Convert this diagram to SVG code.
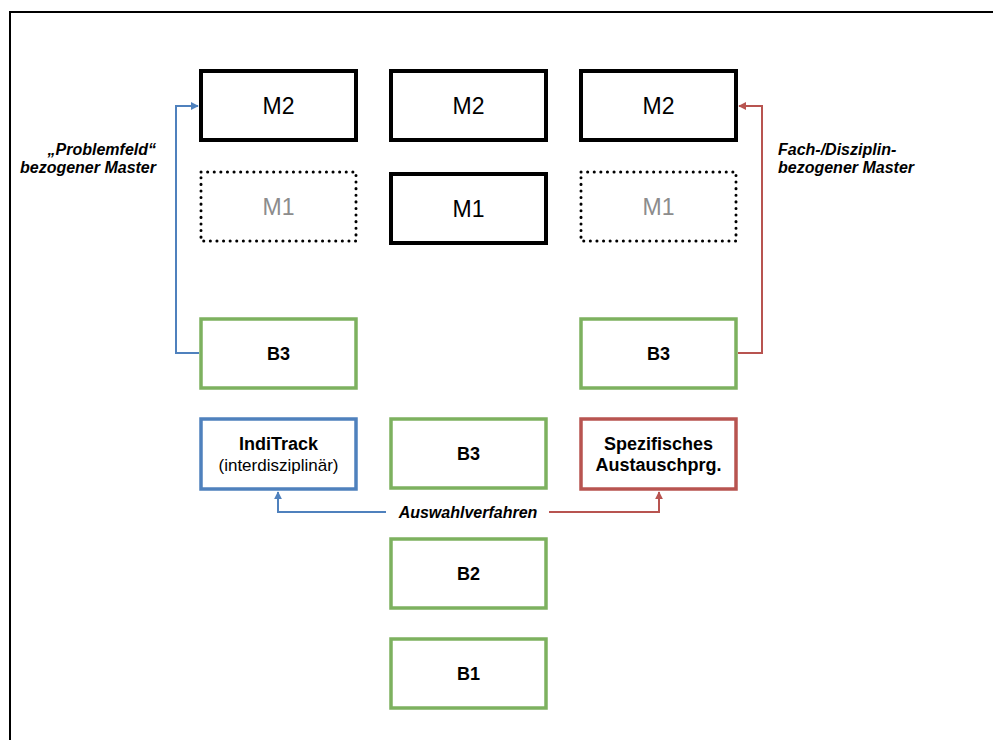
<svg xmlns="http://www.w3.org/2000/svg" width="993" height="740" viewBox="0 0 993 740">
<style>
text{font-family:"Liberation Sans",Arial,sans-serif;text-anchor:middle;fill:#000}
.m{font-size:23px}
.g{fill:#8c8c8c}
.b{font-size:18px;font-weight:bold}
.s{font-size:17px}
.lbl{font-size:16px;font-weight:bold;font-style:italic}
.box{fill:#fff;stroke:#000;stroke-width:4}
.dot{fill:#fff;stroke:#000;stroke-width:3;stroke-dasharray:0.1 6.5;stroke-linecap:round}
.grn{fill:#fff;stroke:#7DB15F;stroke-width:3.5}
.blu{fill:#fff;stroke:#4F81BD;stroke-width:3.5}
.red{fill:#fff;stroke:#B85450;stroke-width:3.5}
.cb{fill:none;stroke:#4F81BD;stroke-width:2}
.cr{fill:none;stroke:#B85450;stroke-width:2}
</style>
<defs>
<marker id="ab" viewBox="0 0 10 10" refX="9" refY="5" markerWidth="8" markerHeight="8" orient="auto" markerUnits="userSpaceOnUse"><path d="M0,0 L10,5 L0,10 z" fill="#4F81BD"/></marker>
<marker id="ar" viewBox="0 0 10 10" refX="9" refY="5" markerWidth="8" markerHeight="8" orient="auto" markerUnits="userSpaceOnUse"><path d="M0,0 L10,5 L0,10 z" fill="#B85450"/></marker>
</defs>
<rect width="993" height="740" fill="#fff"/>
<path d="M10,740 V12 H993" fill="none" stroke="#000" stroke-width="2"/>
<g id="connectors">
<path class="cb" d="M199,353 H176 V106 H198" marker-end="url(#ab)"/>
<path class="cr" d="M738,353 H762 V106 H739" marker-end="url(#ar)"/>
<path class="cb" d="M386,512 H278 V492" marker-end="url(#ab)"/>
<path class="cr" d="M549,512 H659 V492" marker-end="url(#ar)"/>
<text class="lbl" x="468" y="518">Auswahlverfahren</text>
</g>
<g id="label-left"><text class="lbl" x="156" y="155" style="text-anchor:end">„Problemfeld“</text><text class="lbl" x="156" y="173" style="text-anchor:end">bezogener Master</text></g>
<g id="label-right"><text class="lbl" x="778" y="155" style="text-anchor:start">Fach-/Disziplin-</text><text class="lbl" x="778" y="173" style="text-anchor:start">bezogener Master</text></g>
<g id="m2-left"><rect class="box" x="201" y="71" width="155" height="69"/><text class="m" x="278.5" y="114">M2</text></g>
<g id="m2-center"><rect class="box" x="391" y="71" width="155" height="69"/><text class="m" x="468.5" y="114">M2</text></g>
<g id="m2-right"><rect class="box" x="581" y="71" width="155" height="69"/><text class="m" x="658.5" y="114">M2</text></g>
<g id="m1-left"><rect class="dot" x="201" y="172" width="155" height="69"/><text class="m g" x="278.5" y="215">M1</text></g>
<g id="m1-center"><rect class="box" x="391" y="174" width="155" height="69"/><text class="m" x="468.5" y="217">M1</text></g>
<g id="m1-right"><rect class="dot" x="581" y="172" width="155" height="69"/><text class="m g" x="658.5" y="215">M1</text></g>
<g id="b3-left"><rect class="grn" x="201" y="319" width="155" height="69"/><text class="b" x="278.5" y="360">B3</text></g>
<g id="b3-right"><rect class="grn" x="581" y="319" width="155" height="69"/><text class="b" x="658.5" y="360">B3</text></g>
<g id="inditrack"><rect class="blu" x="201" y="419" width="155" height="70"/><text class="b" x="278.5" y="450">IndiTrack</text><text class="s" x="278.5" y="471">(interdisziplinär)</text></g>
<g id="b3-center"><rect class="grn" x="391" y="419" width="155" height="69"/><text class="b" x="468.5" y="460">B3</text></g>
<g id="austausch"><rect class="red" x="581" y="419" width="155" height="70"/><text class="b" x="658.5" y="450">Spezifisches</text><text class="b" x="658.5" y="471">Austauschprg.</text></g>
<g id="b2"><rect class="grn" x="391" y="539" width="155" height="69"/><text class="b" x="468.5" y="580">B2</text></g>
<g id="b1"><rect class="grn" x="391" y="639" width="155" height="69"/><text class="b" x="468.5" y="680">B1</text></g>
</svg>
